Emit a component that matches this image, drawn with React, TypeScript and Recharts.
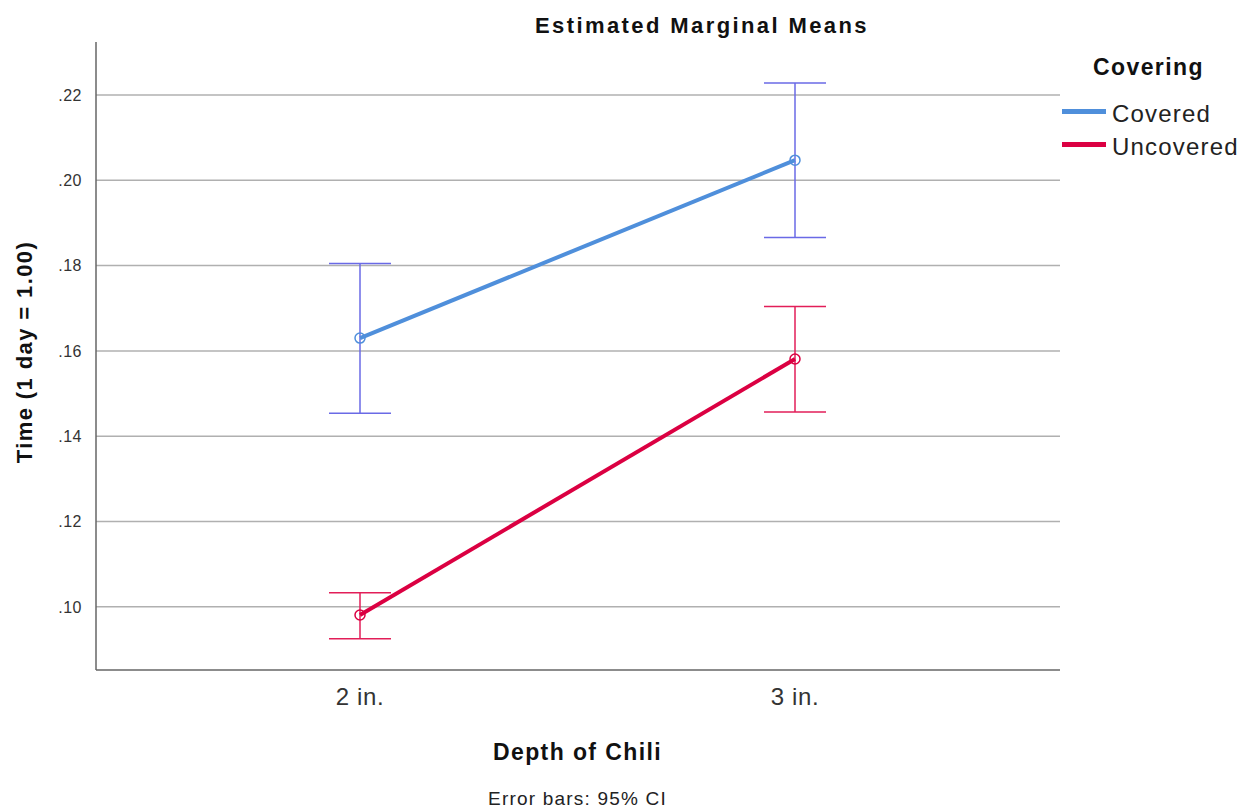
import { LineChart, Line, XAxis, YAxis, CartesianGrid, ErrorBar } from "recharts"

const depths = ["2 in.", "3 in."]
const coveredMean = [0.163, 0.2047]
const coveredLow = [0.1454, 0.1866]
const coveredHigh = [0.1805, 0.2228]
const uncoveredMean = [0.0981, 0.1581]
const uncoveredLow = [0.0925, 0.1457]
const uncoveredHigh = [0.1033, 0.1704]
const yTicks = [0.1, 0.12, 0.14, 0.16, 0.18, 0.2, 0.22]

const BLUE = "#4f8fdb"
const BLUE_ERR = "#6a6ae6"
const RED = "#db0042"
const RED_ERR = "#e21e58"
const FONT = "'Liberation Sans', Arial, sans-serif"

const data = depths.map((d, i) => ({
  depth: d,
  covered: coveredMean[i],
  coveredErr: [coveredMean[i] - coveredLow[i], coveredHigh[i] - coveredMean[i]],
  uncovered: uncoveredMean[i],
  uncoveredErr: [uncoveredMean[i] - uncoveredLow[i], uncoveredHigh[i] - uncoveredMean[i]],
}))

const legendItems = [
  { name: "Covered", color: BLUE },
  { name: "Uncovered", color: RED },
]

function CoveringLegend() {
  return (
    <div style={{ position: "absolute", left: 1062, top: 54, width: 181, fontFamily: FONT, color: "#111" }}>
      <div style={{ fontWeight: "bold", fontSize: 23, letterSpacing: 1.4, marginLeft: 31, marginBottom: 16 }}>Covering</div>
      {legendItems.map((it) => (
        <div key={it.name} style={{ display: "flex", alignItems: "center", height: 33 }}>
          <div style={{ width: 44, height: 5, background: it.color, marginRight: 6, marginTop: -4 }} />
          <span style={{ fontSize: 24, letterSpacing: 1.2, color: "#222" }}>{it.name}</span>
        </div>
      ))}
    </div>
  )
}

function dot(color: string) {
  return (props: any) => (
    <circle
      key={props.index}
      cx={props.cx}
      cy={props.cy}
      r={5}
      fill="none"
      stroke={color}
      strokeWidth={1.5}
    />
  )
}

export default function App() {
  return (
    <div style={{ position: "absolute", left: 0, top: 0, width: 1243, height: 810, background: "#fff", fontFamily: FONT }}>
      <div style={{ position: "absolute", left: 0, width: 1404, top: 13, textAlign: "center", fontWeight: "bold", fontSize: 22, letterSpacing: 2.4, color: "#111" }}>
        Estimated Marginal Means
      </div>
      <div
        style={{
          position: "absolute",
          left: 25,
          top: 352,
          transform: "translate(-50%, -50%) rotate(-90deg)",
          whiteSpace: "nowrap",
          fontWeight: "bold",
          fontSize: 22,
          letterSpacing: 1.4,
          color: "#111",
        }}
      >
        Time (1 day = 1.00)
      </div>
      <div style={{ position: "absolute", left: 0, width: 1155, top: 739, textAlign: "center", fontWeight: "bold", fontSize: 23, letterSpacing: 1.4, color: "#111" }}>
        Depth of Chili
      </div>
      <div style={{ position: "absolute", left: 0, width: 1155, top: 788, textAlign: "center", fontSize: 19, letterSpacing: 1.2, color: "#222" }}>
        Error bars: 95% CI
      </div>
      <CoveringLegend />
      <LineChart width={1243} height={810} data={data} margin={{ top: 42, right: 183, bottom: 100, left: 36 }}>
        <CartesianGrid vertical={false} horizontalValues={yTicks} stroke="#b0b0b0" strokeWidth={1.5} />
        <XAxis
          dataKey="depth"
          padding={{ left: 264, right: 265 }}
          tickLine={false}
          axisLine={{ stroke: "#666", strokeWidth: 1.5 }}
          tick={{ fontSize: 24, fill: "#333", fontFamily: FONT, letterSpacing: 0.6 }}
          tickMargin={12}
          height={40}
        />
        <YAxis
          type="number"
          domain={[0.0852, 0.2324]}
          ticks={yTicks}
          tickFormatter={(v: number) => v.toFixed(2).replace(/^0/, "")}
          tickLine={false}
          axisLine={{ stroke: "#666", strokeWidth: 1.5 }}
          tick={{ fontSize: 16, fill: "#333", fontFamily: FONT, letterSpacing: 0.5 }}
          tickMargin={8}
          width={60}
        />
        <Line
          dataKey="covered"
          stroke={BLUE}
          strokeWidth={4}
          dot={dot(BLUE)}
          activeDot={false}
          isAnimationActive={false}
        >
          <ErrorBar dataKey="coveredErr" width={31} stroke={BLUE_ERR} strokeWidth={1.5} direction="y" />
        </Line>
        <Line
          dataKey="uncovered"
          stroke={RED}
          strokeWidth={4}
          dot={dot(RED)}
          activeDot={false}
          isAnimationActive={false}
        >
          <ErrorBar dataKey="uncoveredErr" width={31} stroke={RED_ERR} strokeWidth={1.5} direction="y" />
        </Line>
      </LineChart>
    </div>
  )
}
